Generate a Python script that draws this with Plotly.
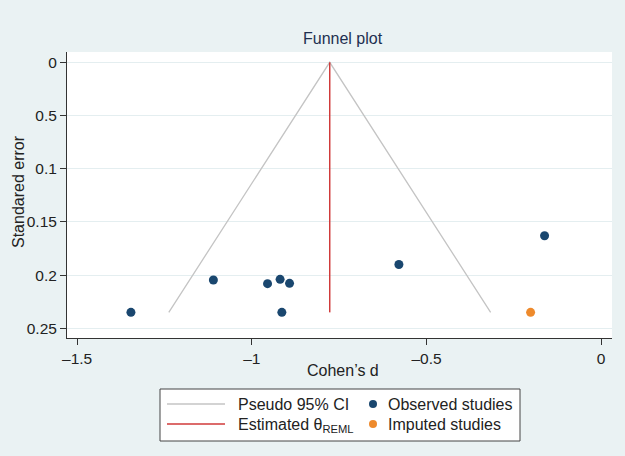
import plotly.graph_objects as go

# ---- data ----
obs_d = [-1.346, -1.110, -0.955, -0.919, -0.892, -0.914, -0.579, -0.162]
obs_se = [0.235, 0.2046, 0.208, 0.204, 0.2077, 0.235, 0.190, 0.163]
imp_d = [-0.202]
imp_se = [0.235]
theta = -0.777
se_max = 0.235
y_ticks = [0, 0.05, 0.1, 0.15, 0.2, 0.25]
y_labels = ["0", "0.5", "0.1", "0.15", "0.2", "0.25"]
x_ticks = [-1.5, -1, -0.5, 0]
x_labels = ["–1.5", "–1", "–0.5", "0"]

BG = "#eaf2f3"
NAVY = "#1a476f"
ORANGE = "#ee8a2c"
RED = "#d03a3a"
GRAY = "#c4c4c4"
FONT = "Liberation Sans, Arial, sans-serif"

W, H = 625, 456
L, R, T, B = 67, 13, 52, 118


def px(x):
    return (x - L) / (W - L - R)


def py(y):
    return (H - B - y) / (H - T - B)


fig = go.Figure()
fig.add_trace(go.Scatter(
    x=[theta - 1.96 * se_max, theta, theta + 1.96 * se_max],
    y=[se_max, 0, se_max], mode="lines",
    line=dict(color=GRAY, width=1.3), showlegend=False, hoverinfo="skip"))
fig.add_trace(go.Scatter(
    x=[theta, theta], y=[0, se_max], mode="lines",
    line=dict(color=RED, width=1.5), showlegend=False, hoverinfo="skip"))
fig.add_trace(go.Scatter(
    x=obs_d, y=obs_se, mode="markers",
    marker=dict(color=NAVY, size=9), showlegend=False))
fig.add_trace(go.Scatter(
    x=imp_d, y=imp_se, mode="markers",
    marker=dict(color=ORANGE, size=9), showlegend=False))

fig.update_layout(
    width=W, height=H,
    margin=dict(l=L, r=R, t=T, b=B),
    paper_bgcolor=BG, plot_bgcolor="white",
    font=dict(family=FONT, size=16, color="#222222"),
    showlegend=False,
)
fig.update_xaxes(
    range=[-1.529, 0.031], tickvals=x_ticks, ticktext=x_labels,
    showgrid=False, zeroline=False, showline=True, linecolor="#333333",
    linewidth=1, ticks="outside", ticklen=6, tickcolor="#333333",
    tickfont=dict(size=15.5, color="#222222"))
fig.update_yaxes(
    range=[0.2591, -0.0097], tickvals=y_ticks, ticktext=y_labels,
    showgrid=True, gridcolor="#e4eef0", gridwidth=1, zeroline=False,
    showline=True, linecolor="#333333", linewidth=1, ticks="outside",
    ticklen=6, tickcolor="#333333", tickfont=dict(size=15.5, color="#222222"))

ann = []
ann.append(dict(text="Funnel plot", x=px(343), y=py(38), xref="paper", yref="paper",
                showarrow=False, font=dict(size=16, color="#1e3050"),
                xanchor="center", yanchor="middle"))
ann.append(dict(text="Cohen’s d", x=px(343), y=py(370), xref="paper", yref="paper",
                showarrow=False, font=dict(size=16, color="#222222"),
                xanchor="center", yanchor="middle"))
ann.append(dict(text="Standared error", x=px(18), y=py(192), xref="paper", yref="paper",
                showarrow=False, textangle=-90, font=dict(size=16, color="#222222"),
                xanchor="center", yanchor="middle"))

shapes = []
# legend box
shapes.append(dict(type="rect", xref="paper", yref="paper",
                   x0=px(160), x1=px(520), y0=py(441), y1=py(389),
                   fillcolor="white", line=dict(color="#444444", width=1), layer="above"))
# legend line samples
shapes.append(dict(type="line", xref="paper", yref="paper",
                   x0=px(167), x1=px(225), y0=py(404), y1=py(404),
                   line=dict(color=GRAY, width=1.5), layer="above"))
shapes.append(dict(type="line", xref="paper", yref="paper",
                   x0=px(167), x1=px(225), y0=py(424), y1=py(424),
                   line=dict(color=RED, width=1.5), layer="above"))
# legend markers
for cy, col in [(404, NAVY), (424, ORANGE)]:
    shapes.append(dict(type="circle", xref="paper", yref="paper",
                       x0=px(373 - 4), x1=px(373 + 4), y0=py(cy + 4), y1=py(cy - 4),
                       fillcolor=col, line=dict(color=col, width=0), layer="above"))

for tx, ty, txt in [(236, 404, "Pseudo 95% CI"),
                    (236, 425, "Estimated θ<sub>REML</sub>"),
                    (386, 404, "Observed studies"),
                    (386, 424, "Imputed studies")]:
    ann.append(dict(text=txt, x=px(tx), y=py(ty), xref="paper", yref="paper",
                    showarrow=False, font=dict(size=16, color="#222222"),
                    xanchor="left", yanchor="middle"))

fig.update_layout(annotations=ann, shapes=shapes)
fig.write_html("out.html")
